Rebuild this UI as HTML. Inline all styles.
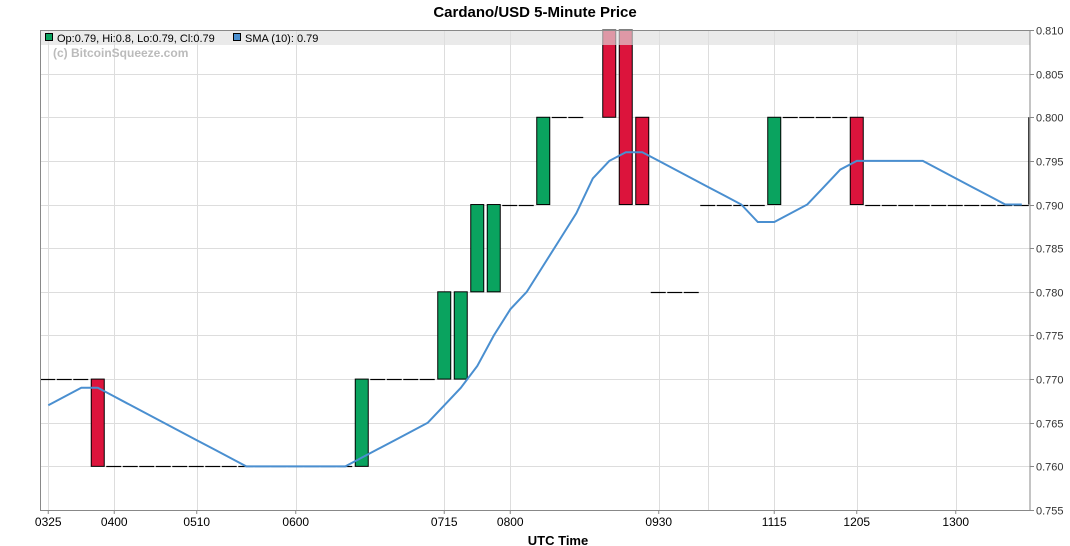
<!DOCTYPE html>
<html><head><meta charset="utf-8"><style>
body{margin:0;background:#fff;}
svg{display:block;font-family:"Liberation Sans",sans-serif;}
</style></head><body>
<svg id="chart" width="1070" height="546" viewBox="0 0 1070 546">
<text x="535" y="17" text-anchor="middle" font-size="15" font-weight="bold" fill="#000">Cardano/USD 5-Minute Price</text>
<g id="grid"></g>
<g id="candles"></g>
<path id="sma" fill="none" stroke="#4a8fd0" stroke-width="2"></path>
<rect x="41" y="31" width="989" height="14" fill="rgba(222,222,222,0.65)"></rect>
<rect x="40.5" y="30.5" width="989.5" height="480" fill="none" stroke="#888"></rect>
<g>
<rect x="45.5" y="33.5" width="7" height="7" fill="#0aa35f" stroke="#000"></rect>
<text x="57" y="42" font-size="11" fill="#000">Op:0.79, Hi:0.8, Lo:0.79, Cl:0.79</text></g>
<g>
<rect x="233.5" y="33.5" width="7" height="7" fill="#4a8fd0" stroke="#000"></rect>
<text x="245" y="42" font-size="11" fill="#000">SMA (10): 0.79</text></g>
<text x="53" y="57" font-size="12" font-weight="bold" fill="#bbb">(c) BitcoinSqueeze.com</text>
<g id="yaxis"></g>
<g id="xaxis"></g>
<text x="558" y="545" text-anchor="middle" font-size="13" font-weight="bold" fill="#000">UTC Time</text>
</svg>
<script>
const opens  = [.77,.77,.77,.77,.76,.76,.76,.76,.76,.76,.76,.76,.76,.76,.76,.76,.76,.76,.76,.76,.77,.77,.77,.77,.77,.77,.78,.78,.79,.79,.79,.80,.80,null,.81,.81,.80,.78,.78,.78,.79,.79,.79,.79,.79,.80,.80,.80,.80,.80,.79,.79,.79,.79,.79,.79,.79,.79,.79,.79];
const closes = [.77,.77,.77,.76,.76,.76,.76,.76,.76,.76,.76,.76,.76,.76,.76,.76,.76,.76,.76,.77,.77,.77,.77,.77,.78,.78,.79,.79,.79,.79,.80,.80,.80,null,.80,.79,.79,.78,.78,.78,.79,.79,.79,.79,.80,.80,.80,.80,.80,.79,.79,.79,.79,.79,.79,.79,.79,.79,.79,.79];
const highs  = [.77,.77,.77,.77,.76,.76,.76,.76,.76,.76,.76,.76,.76,.76,.76,.76,.76,.76,.76,.77,.77,.77,.77,.77,.78,.78,.79,.79,.79,.79,.80,.80,.80,null,.81,.81,.80,.78,.78,.78,.79,.79,.79,.79,.80,.80,.80,.80,.80,.80,.79,.79,.79,.79,.79,.79,.79,.79,.79,.80];
const sma = [.767,.768,.769,.769,.768,.767,.766,.765,.764,.763,.762,.761,.760,.760,.760,.760,.760,.760,.760,.761,.762,.763,.764,.765,.767,.769,.7715,.775,.778,.780,.783,.786,.789,.793,.795,.796,.796,.795,.794,.793,.792,.791,.790,.788,.788,.789,.790,.792,.794,.795,.795,.795,.795,.795,.794,.793,.792,.791,.790,.790];
const xTickIdx = [0,4,9,15,24,28,37,44,49,55];
const xTickLabels = ["0325","0400","0510","0600","0715","0800","0930","1115","1205","1300"];
const extraGridIdx = [40];
const yTicks = [0.755,0.760,0.765,0.770,0.775,0.780,0.785,0.790,0.795,0.800,0.805,0.810];

const NS="http://www.w3.org/2000/svg";
const L=40,R=1030,T=30,B=510,N=opens.length,step=(R-L)/N;
const xs=i=>L+step*(i+0.5);
const ys=v=>T+(0.810-v)/(0.055)*(B-T);
function mk(tag,attrs,parent){const e=document.createElementNS(NS,tag);for(const k in attrs)e.setAttribute(k,attrs[k]);parent.appendChild(e);return e;}
const grid=document.getElementById('grid'),ya=document.getElementById('yaxis'),xa=document.getElementById('xaxis'),cg=document.getElementById('candles');
yTicks.forEach(v=>{const y=Math.round(ys(v))+0.5;
 const g=mk('line',{x1:L,x2:R,y1:y,y2:y,stroke:'#ddd'},grid);
 
 
 const t=mk('line',{x1:R,x2:R+4,y1:y,y2:y,stroke:'#888'},ya);
 
 
 const tx=mk('text',{x:R+6,y:y+4,'font-size':11,fill:'#333'},ya);tx.textContent=v.toFixed(3);
 
 
});
xTickIdx.concat(extraGridIdx).forEach(i=>{const x=Math.round(xs(i))+0.5;
 const g=mk('line',{x1:x,x2:x,y1:T,y2:B,stroke:'#ddd'},grid);
 
 
});
xTickIdx.forEach((i,k)=>{const x=xs(i);
 const t=mk('line',{x1:x,x2:x,y1:B,y2:B+4,stroke:'#888'},xa);
 
 
 const tx=mk('text',{x:x,y:B+16,'font-size':12,'text-anchor':'middle',fill:'#000'},xa);tx.textContent=xTickLabels[k];
 
 
});
const bw=13;
for(let i=0;i<N;i++){
 if(opens[i]==null)continue;
 const o=opens[i],c=closes[i],h=highs[i],x=xs(i);
 const top=Math.max(o,c);
 if(h>top+1e-9){const w=mk('line',{x1:x+7,x2:x+7,y1:ys(h),y2:ys(top),stroke:'#000'},cg);
  
  }
 if(Math.abs(o-c)<1e-9){const y=Math.round(ys(o))+0.5;
  const d=mk('line',{x1:x-8,x2:x+7,y1:y,y2:y,stroke:'#000','stroke-width':1.2},cg);
  
  }
 else{const y1=ys(top),y2=ys(Math.min(o,c));
  const r=mk('rect',{x:x-bw/2,y:y1,width:bw,height:y2-y1,fill:c>o?'#0aa35f':'#dc143c',stroke:'#000','stroke-width':1},cg);
  
  }
}
document.getElementById('sma').setAttribute('d',sma.map((v,i)=>(i?'L':'M')+xs(i).toFixed(1)+','+ys(v).toFixed(1)).join(''));
</script>
</body></html>
